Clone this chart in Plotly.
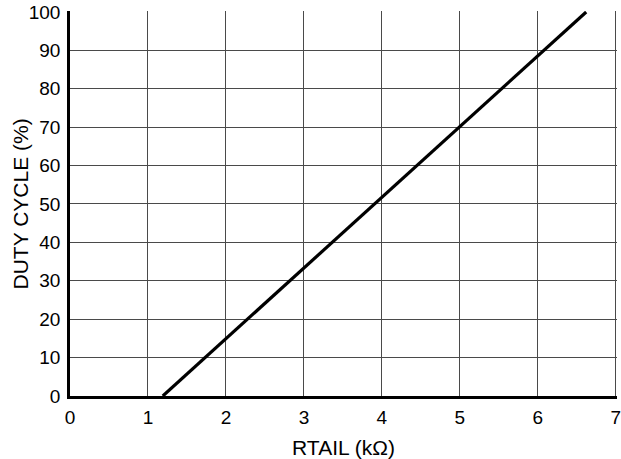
import plotly.graph_objects as go

rtail_kohm = [1.19, 6.62]
duty_cycle_pct = [0, 100]
x_ticks = [0, 1, 2, 3, 4, 5, 6, 7]
y_ticks = [0, 10, 20, 30, 40, 50, 60, 70, 80, 90, 100]

fig = go.Figure()
fig.add_trace(go.Scatter(x=rtail_kohm, y=duty_cycle_pct, mode="lines",
                         line=dict(color="black", width=3.2), showlegend=False))

tick_font = dict(family="Liberation Sans, Arial, sans-serif", size=19, color="black")
title_font = dict(family="Liberation Sans, Arial, sans-serif", size=21, color="black")
fig.update_layout(
    width=621, height=459,
    margin=dict(l=70, r=4, t=11, b=63),
    plot_bgcolor="white", paper_bgcolor="white",
    font=tick_font,
    xaxis=dict(range=[0, 7.015], tickvals=x_ticks, showgrid=True, gridcolor="#4a4a4a", gridwidth=1.2,
               showline=True, linecolor="black", linewidth=2.5, zeroline=False,
               ticks="", ticklabelstandoff=2, automargin=False, ticklabeloverflow="allow",
               tickfont=tick_font,
               title=dict(text="RTAIL (kΩ)", standoff=14, font=title_font)),
    yaxis=dict(range=[0, 100.25], tickvals=y_ticks, showgrid=True, gridcolor="#4a4a4a", gridwidth=1.2,
               showline=True, linecolor="black", linewidth=2.5, zeroline=False,
               ticks="", ticklabelstandoff=3, automargin=False, ticklabeloverflow="allow",
               tickfont=tick_font),
    annotations=[dict(text="DUTY CYCLE (%)", textangle=-90, font=title_font,
                      xref="paper", yref="paper", x=-0.0896, y=0.5,
                      xanchor="center", yanchor="middle", showarrow=False)],
)
fig.write_html("out.html", config={"displayModeBar": False},
               post_script="document.body.style.margin='0';document.body.style.padding='0';")
